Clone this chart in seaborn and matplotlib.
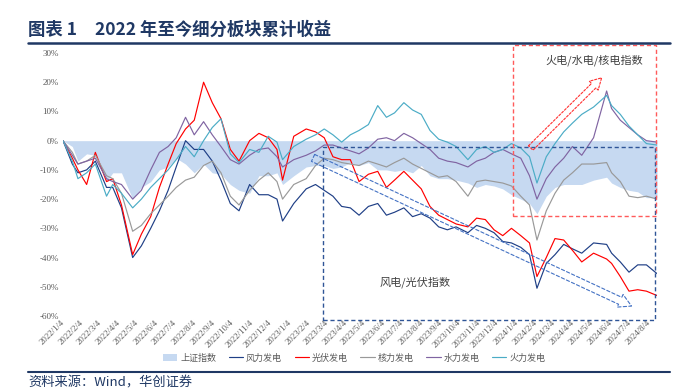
import pandas as pd
import numpy as np
import matplotlib.pyplot as plt
import matplotlib.dates as mdates
import seaborn as sns
from matplotlib.patches import Rectangle
from matplotlib.lines import Line2D

# sample dates (roughly twice a month, plus the main turning points)
dates = [
    '2022-01-04', '2022-01-19', '2022-01-28', '2022-02-11', '2022-02-25', '2022-03-15',
    '2022-03-25', '2022-04-08', '2022-04-26', '2022-05-10', '2022-05-25', '2022-06-08',
    '2022-06-22', '2022-07-05', '2022-07-20', '2022-08-03', '2022-08-18', '2022-09-01',
    '2022-09-15', '2022-09-30', '2022-10-14', '2022-10-31', '2022-11-15', '2022-11-30',
    '2022-12-14', '2022-12-23', '2023-01-10', '2023-01-30', '2023-02-14', '2023-02-28',
    '2023-03-14', '2023-03-28', '2023-04-11', '2023-04-25', '2023-05-10', '2023-05-25',
    '2023-06-08', '2023-06-21', '2023-07-06', '2023-07-20', '2023-08-03', '2023-08-17',
    '2023-08-31', '2023-09-14', '2023-09-28', '2023-10-17', '2023-10-31', '2023-11-14',
    '2023-11-28', '2023-12-12', '2023-12-26', '2024-01-10', '2024-01-24', '2024-02-05',
    '2024-02-20', '2024-03-05', '2024-03-19', '2024-04-02', '2024-04-17', '2024-05-06',
    '2024-05-27', '2024-06-04', '2024-06-18', '2024-07-02', '2024-07-16', '2024-07-30',
    '2024-08-16',
]

# cumulative return, %
shanghai = [
    0, -2, -7, -4.5, -5, -14, -11, -11, -20, -16, -14, -10,
    -9, -6, -8, -11, -8, -11, -11.5, -15, -17, -18, -12, -12,
    -11, -15, -12, -9, -8.5, -8.5, -9.5, -9, -7.5, -8.5, -7.5, -10,
    -10, -10.5, -10, -11, -8.5, -12, -13, -13, -13.5, -14.5, -16, -15,
    -15.5, -16.5, -18.5, -20, -21.5, -25, -19, -16, -15, -15, -15, -13.5,
    -12.5, -14.5, -16, -17, -17.5, -19.5, -19.5,
]
wind = [
    0, -8, -11, -10, -7, -16, -16, -23, -40, -36, -30, -24,
    -17, -9, 0, -3, -3, -7, -13.5, -21.5, -24, -15, -18.5, -18.5,
    -20, -27.5, -21.5, -16.5, -15, -17, -19, -22.5, -23, -25.5, -22.5, -21.5,
    -25.5, -24.5, -23, -26, -25, -26.5, -29.5, -30.5, -29.5, -31.5, -29, -30,
    -31.5, -34.5, -35, -36.5, -39, -50.5, -42, -39, -35.5, -37, -38.5, -35,
    -35.5, -38.5, -41.5, -45, -42.5, -42.5, -45.5,
]
solar = [
    0, -6, -10, -15, -4, -14, -13, -22, -39, -32, -26, -16,
    -8, -1, 4, 7, 20, 13, 7.5, -3, -7, 0, 2.5, 1,
    -3, -13.5, 1.5, 4, 3, 1, -5.5, -6.5, -6.5, -14, -11.5, -10.5,
    -16, -13.5, -10.5, -13.5, -16.5, -22.5, -25.5, -27, -28.5, -29.5, -26.5, -27,
    -30.5, -32.5, -30, -32.5, -35, -46.5, -40, -33.5, -34, -37.5, -41.5, -38.5,
    -40.5, -42, -46.5, -51.5, -51, -51.5, -53,
]
nuclear = [
    0, -4, -8, -7, -5, -12, -13, -18, -31, -29, -25, -22,
    -19, -16, -13.5, -12.5, -8.5, -7, -11, -19, -22, -17, -13.5, -11,
    -14, -20, -15, -13, -8.5, -6, -6.5, -7.5, -8, -8.5, -7, -8,
    -9, -7.5, -6, -8, -9.5, -11, -12.5, -12, -14, -19, -14, -13.5,
    -14, -14.5, -15.5, -19, -22, -34, -24, -18, -13.5, -11, -8, -8,
    -7.5, -11, -14, -19, -19.5, -19, -20,
]
hydro = [
    0, -5, -8, -7, -6, -13, -14, -15, -20, -17, -10, -4,
    -2, 1, 8, 2, 6.5, 2, -2, -6.5, -8, -5, -3, -2.5,
    -5.5, -9, -6.5, -5, -3.5, -1.5, -1.5, -2.5, -3.5, -4.5, -2.5, 0.5,
    1, 0, 2.5, 1, -1, -3, -6, -7, -7.5, -9, -7, -6,
    -4, -3, -4.5, -6, -12, -20, -13, -9, -6, -2, -5, 1,
    17, 11, 7, 4.5, 2, 0, -0.5,
]
thermal = [
    0, -7, -13, -11, -8, -19, -15, -18, -23, -20, -16, -13,
    -10, -6.5, -2, -5.5, 0, 4.5, 7.5, -4.5, -7.5, -3, -4, 1.5,
    -0.5, -6.5, -2, 0.5, 2, 4, 2, -0.5, 2, 3.5, 5.5, 12,
    8, 9.5, 13, 10.5, 9, 3.5, 0.5, -0.5, -2, -6.5, -3, -2,
    -4, -3, -1, -2.5, -5.5, -14.5, -5.5, -1, 3, 6, 9, 11.5,
    15.5, 12, 9, 5, 2, -1, -1.5,
]

series_names = ['风力发电', '光伏发电', '核力发电', '水力发电', '火力发电']
series_values = [wind, solar, nuclear, hydro, thermal]
series_colors = ['#1F3F86', '#FF0000', '#999999', '#8064A2', '#4BACC6']

y_ticks = [30, 20, 10, 0, -10, -20, -30, -40, -50, -60]
x_ticks = [pd.Timestamp(2022 + m // 12, m % 12 + 1, 4) for m in range(32)]

NAVY = '#1F3864'


def main():
    sns.set_theme(style="white")
    plt.rcParams['font.family'] = ['Noto Sans CJK SC', 'DejaVu Sans']
    plt.rcParams['axes.unicode_minus'] = False

    dt = pd.to_datetime(dates)
    W, H = 695, 388
    fig = plt.figure(figsize=(W / 100, H / 100), dpi=100)
    ax = fig.add_axes([63 / W, 1 - 316 / H, (657 - 63) / W, (316 - 53) / H])

    # 上证指数 as a filled area
    ax.fill_between(dt, 0, shanghai, color='#C6D9F1', lw=0, zorder=1, label='上证指数')

    for name, vals, col in zip(series_names, series_values, series_colors):
        sns.lineplot(x=dt, y=vals, color=col, lw=0.85, ax=ax, label=name, legend=False, zorder=3)

    ax.set_xlim(dt[0], dt[-1])
    ax.set_ylim(-60, 30)
    ax.set_yticks(y_ticks)
    ax.set_yticklabels([f'{v}%' for v in y_ticks], fontfamily='Liberation Serif',
                       fontsize=6.5, color='#595959')
    ax.set_xticks(x_ticks)
    ax.set_xticklabels([f'{d.year}/{d.month}/{d.day}' for d in x_ticks],
                       fontfamily='Liberation Serif', fontsize=6.3, color='#595959',
                       rotation=45, ha='right', va='center', rotation_mode='anchor')
    ax.tick_params(axis='both', length=0)
    ax.tick_params(axis='x', pad=4)
    ax.tick_params(axis='y', pad=3)
    ax.set_xlabel('')
    ax.set_ylabel('')
    for s in ax.spines.values():
        s.set_visible(False)
    ax.grid(False)

    # dashed boxes
    d2n = mdates.date2num
    bx0, bx1 = d2n(pd.Timestamp('2023-02-26')), d2n(pd.Timestamp('2024-08-13'))
    ax.add_patch(Rectangle((bx0, -61.4), bx1 - bx0, 59.2, fill=False, ec='#2F5597',
                           lw=1.0, ls=(0, (3, 2)), clip_on=False, zorder=4))
    rx0, rx1 = d2n(pd.Timestamp('2023-12-28')), d2n(pd.Timestamp('2024-08-14'))
    ax.add_patch(Rectangle((rx0, -25.9), rx1 - rx0, 58.7, fill=False, ec='#FF5B5B',
                           lw=1.0, ls=(0, (3, 2)), clip_on=False, zorder=4))

    # hollow dashed arrows
    ax.annotate('', xy=(pd.Timestamp('2024-05-19'), 21.5), xytext=(pd.Timestamp('2024-01-26'), -2.5),
                arrowprops=dict(arrowstyle='simple,head_width=0.9,head_length=0.8,tail_width=0.45',
                                fc='none', ec='#FF3030', lw=0.8, ls=(0, (2, 1.5)),
                                shrinkA=0, shrinkB=0, mutation_scale=10),
                annotation_clip=False, zorder=5)
    ax.annotate('', xy=(pd.Timestamp('2024-07-06'), -56.6), xytext=(pd.Timestamp('2023-02-10'), -5.9),
                arrowprops=dict(arrowstyle='simple,head_width=1.0,head_length=0.9,tail_width=0.55',
                                fc='none', ec='#4472C4', lw=0.8, ls=(0, (3, 2)),
                                shrinkA=0, shrinkB=0, mutation_scale=10),
                annotation_clip=False, zorder=5)

    ax.text(pd.Timestamp('2024-05-08'), 27.6, '火电/水电/核电指数', fontsize=8,
            color='#404040', ha='center', va='center')
    ax.text(pd.Timestamp('2023-07-24'), -48.4, '风电/光伏指数', fontsize=8,
            color='#404040', ha='center', va='center')

    # legend
    handles, labels = ax.get_legend_handles_labels()
    fig.legend(handles, labels, loc='center', bbox_to_anchor=(354 / W, 1 - 358 / H), ncol=6,
               frameon=False, fontsize=6.5, handlelength=1.6, handletextpad=0.3,
               columnspacing=1.4, labelcolor='#595959')

    # title, rules, source
    fig.text(28 / W, 1 - 30 / H, '图表 1', fontsize=12.5,
             fontweight='bold', color=NAVY, ha='left', va='center')
    fig.text(95 / W, 1 - 30 / H, '2022 年至今细分板块累计收益', fontsize=12.5,
             fontweight='bold', color=NAVY, ha='left', va='center')
    fig.add_artist(Line2D([28 / W, 670 / W], [1 - 43 / H] * 2, color=NAVY, lw=1.8))
    fig.add_artist(Line2D([28 / W, 670 / W], [1 - 372 / H] * 2, color=NAVY, lw=1.5))
    fig.text(28 / W, 1 - 383 / H, '资料来源：Wind，华创证券', fontsize=9.5,
             color=NAVY, ha='left', va='center')

    fig.savefig('out.png', dpi=100)
    plt.close(fig)


if __name__ == '__main__':
    main()
